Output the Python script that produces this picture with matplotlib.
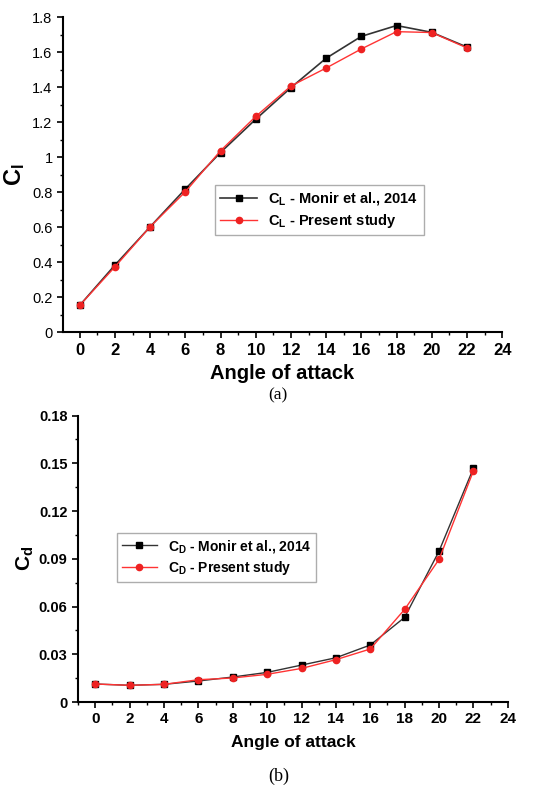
import matplotlib.pyplot as plt
from matplotlib.ticker import MultipleLocator, FuncFormatter

plt.rcParams['font.family'] = ['Liberation Sans', 'DejaVu Sans']
plt.rcParams['mathtext.fontset'] = 'custom'
plt.rcParams['mathtext.rm'] = 'Liberation Sans:bold'
plt.rcParams['mathtext.bf'] = 'Liberation Sans:bold'
plt.rcParams['mathtext.it'] = 'Liberation Sans:bold'

angle = [0, 2, 4, 6, 8, 10, 12, 14, 16, 18, 20, 22]

cl_monir = [0.153, 0.383, 0.602, 0.818, 1.027, 1.217, 1.398, 1.566, 1.691, 1.753, 1.714, 1.630]
cl_present = [0.153, 0.373, 0.602, 0.802, 1.037, 1.233, 1.407, 1.510, 1.619, 1.718, 1.713, 1.625]

cd_monir = [0.0113, 0.0105, 0.0111, 0.0132, 0.0157, 0.0186, 0.0232, 0.0278, 0.0358, 0.0532, 0.0948, 0.1469]
cd_present = [0.0113, 0.0105, 0.0111, 0.0140, 0.0151, 0.0174, 0.0211, 0.0266, 0.0333, 0.0582, 0.0896, 0.1452]

fig = plt.figure(figsize=(5.51, 7.87), dpi=100)


def fmt(v, pos):
    return ('%.2f' % v).rstrip('0').rstrip('.')


def style(ax, bold_y, xsize, ysize):
    for s in ['top', 'right']:
        ax.spines[s].set_visible(False)
    for s in ['left', 'bottom']:
        ax.spines[s].set_linewidth(1.5)
    ax.xaxis.set_major_locator(MultipleLocator(2))
    ax.xaxis.set_minor_locator(MultipleLocator(1))
    ax.tick_params(which='major', direction='out', length=4, width=1.2)
    ax.tick_params(which='minor', direction='out', length=2.5, width=1)
    ax.yaxis.set_major_formatter(FuncFormatter(fmt))
    for lbl in ax.get_xticklabels():
        lbl.set_fontweight('bold')
        lbl.set_fontsize(xsize)
    for lbl in ax.get_yticklabels():
        lbl.set_fontsize(ysize)
        if bold_y:
            lbl.set_fontweight('bold')


legend_kw = dict(frameon=True, fancybox=False, edgecolor='#999999', handlelength=2.5,
                 borderpad=0.35, labelspacing=0.3)

# (a) lift
ax1 = fig.add_axes([0.1143, 0.578, 0.797, 0.400])
ax1.plot(angle, cl_monir, '-s', color='#333333', mfc='black', mec='black', ms=4.5, lw=1.2,
         label=r'$C_L$ - Monir et al., 2014')
ax1.plot(angle, cl_present, '-o', color='#ff3333', mfc='#ee2222', mec='#ee2222', ms=4.5, lw=1.0,
         label=r'$C_L$ - Present study')
ax1.set_xlim(-0.95, 24)
ax1.set_ylim(0, 1.8)
ax1.yaxis.set_major_locator(MultipleLocator(0.2))
ax1.yaxis.set_minor_locator(MultipleLocator(0.1))
style(ax1, False, 12, 10.5)
ax1.set_ylabel(r'$C_l$', fontsize=17, labelpad=4)
ax1.set_xlabel('Angle of attack', fontsize=14.5, fontweight='bold', labelpad=5)
ax1.legend(loc='upper left', bbox_to_anchor=(0.33, 0.49),
           prop={'weight': 'bold', 'size': 10.5}, **legend_kw)
fig.text(0.505, 0.497, '(a)', ha='center', va='center', fontsize=12.5, family='Liberation Serif')

# (b) drag
ax2 = fig.add_axes([0.1416, 0.108, 0.780, 0.364])
ax2.plot(angle, cd_monir, '-s', color='#333333', mfc='black', mec='black', ms=4.5, lw=1.0,
         label=r'$C_D$ - Monir et al., 2014')
ax2.plot(angle, cd_present, '-o', color='#ff3333', mfc='#ee2222', mec='#ee2222', ms=4.5, lw=1.0,
         label=r'$C_D$ - Present study')
ax2.set_xlim(-1, 24)
ax2.set_ylim(0, 0.18)
ax2.yaxis.set_major_locator(MultipleLocator(0.03))
ax2.yaxis.set_minor_locator(MultipleLocator(0.015))
style(ax2, True, 11, 10.5)
ax2.set_ylabel(r'$C_d$', fontsize=15, labelpad=2)
ax2.set_xlabel('Angle of attack', fontsize=12.5, fontweight='bold', labelpad=6)
ax2.legend(loc='upper left', bbox_to_anchor=(0.075, 0.615),
           prop={'weight': 'bold', 'size': 10}, **legend_kw)
fig.text(0.505, 0.014, '(b)', ha='center', va='center', fontsize=13, family='Liberation Serif')

fig.savefig('out.png', dpi=100)
